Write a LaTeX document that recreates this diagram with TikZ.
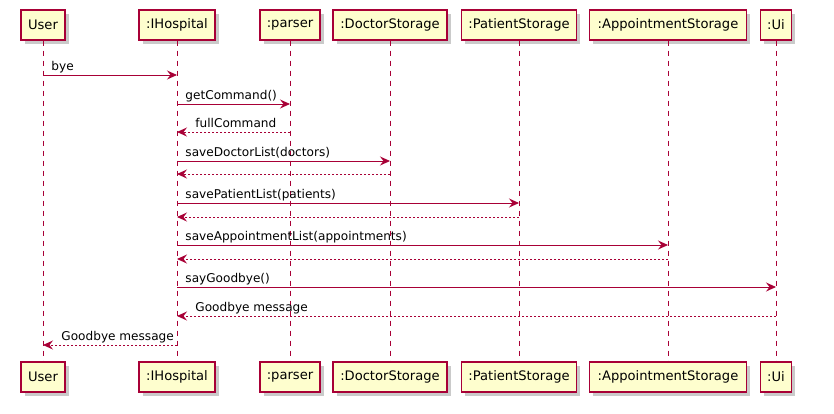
\documentclass[tikz,border=0pt]{standalone}
\usepackage{fontspec}
\setmainfont{DejaVu Sans}
\usetikzlibrary{arrows.meta,shadows}
\definecolor{umlred}{HTML}{A80036}
\definecolor{umlfill}{HTML}{FEFECE}
\begin{document}
\begin{tikzpicture}[x=1pt,y=-1pt,
  actor/.style={draw=umlred, fill=umlfill, line width=1.1pt, minimum height=30pt, inner sep=0pt,
    font=\fontsize{13.1}{15}\selectfont,
    drop shadow={shadow xshift=3.5pt, shadow yshift=-3.5pt, fill=black!35, opacity=0.6}},
  life/.style={draw=umlred, line width=0.8pt, dash pattern=on 5pt off 5pt},
  msg/.style={draw=umlred, line width=0.9pt, -{Stealth[length=10pt,width=9pt,inset=3.5pt]}},
  ret/.style={msg, dash pattern=on 2pt off 2pt},
  fwdlbl/.style={pos=0, font=\fontsize{12.1}{14}\selectfont, inner sep=0pt, anchor=base west, xshift=8pt, yshift=5pt},
  retlbl/.style={pos=1, font=\fontsize{12.1}{14}\selectfont, inner sep=0pt, anchor=base west, xshift=18pt, yshift=5pt}]
\useasboundingbox (0,0) rectangle (834,413);

% top participants
\node[actor, minimum width=44pt]  (userT)  at (43,25)  {User};
\node[actor, minimum width=76pt]  (hospT)  at (177,25) {:IHospital};
\node[actor, minimum width=60pt]  (parsT)  at (290,25) {:parser};
\node[actor, minimum width=114pt] (docT)   at (390,25) {:DoctorStorage};
\node[actor, minimum width=115pt] (patT)   at (519,25) {:PatientStorage};
\node[actor, minimum width=157pt] (appT)   at (668,25) {:AppointmentStorage};
\node[actor, minimum width=31pt]  (uiT)    at (776,25) {:Ui};

% bottom participants
\node[actor, minimum width=44pt]  (userB)  at (43,377)  {User};
\node[actor, minimum width=76pt]  (hospB)  at (177,377) {:IHospital};
\node[actor, minimum width=60pt]  (parsB)  at (290,377) {:parser};
\node[actor, minimum width=114pt] (docB)   at (390,377) {:DoctorStorage};
\node[actor, minimum width=115pt] (patB)   at (519,377) {:PatientStorage};
\node[actor, minimum width=157pt] (appB)   at (668,377) {:AppointmentStorage};
\node[actor, minimum width=31pt]  (uiB)    at (776,377) {:Ui};

% lifelines
\draw[life] (userT.south) -- (userB.north);
\draw[life] (hospT.south) -- (hospB.north);
\draw[life] (parsT.south) -- (parsB.north);
\draw[life] (docT.south) -- (docB.north);
\draw[life] (patT.south) -- (patB.north);
\draw[life] (appT.south) -- (appB.north);
\draw[life] (uiT.south) -- (uiB.north);

% messages
\draw[msg] (userT |- 0,75) -- (hospT |- 0,75) node[fwdlbl] {bye};
\draw[msg] (hospT |- 0,104) -- (parsT |- 0,104) node[fwdlbl] {getCommand()};
\draw[ret] (parsT |- 0,132) -- (hospT |- 0,132) node[retlbl] {fullCommand};
\draw[msg] (hospT |- 0,161) -- (docT |- 0,161) node[fwdlbl] {saveDoctorList(doctors)};
\draw[ret] (docT |- 0,174) -- (hospT |- 0,174);
\draw[msg] (hospT |- 0,203) -- (patT |- 0,203) node[fwdlbl] {savePatientList(patients)};
\draw[ret] (patT |- 0,217) -- (hospT |- 0,217);
\draw[msg] (hospT |- 0,245) -- (appT |- 0,245) node[fwdlbl] {saveAppointmentList(appointments)};
\draw[ret] (appT |- 0,259) -- (hospT |- 0,259);
\draw[msg] (hospT |- 0,287) -- (uiT |- 0,287) node[fwdlbl] {sayGoodbye()};
\draw[ret] (uiT |- 0,316) -- (hospT |- 0,316) node[retlbl] {Goodbye message};
\draw[ret] (hospT |- 0,345) -- (userT |- 0,345) node[retlbl] {Goodbye message};
\end{tikzpicture}
\end{document}
